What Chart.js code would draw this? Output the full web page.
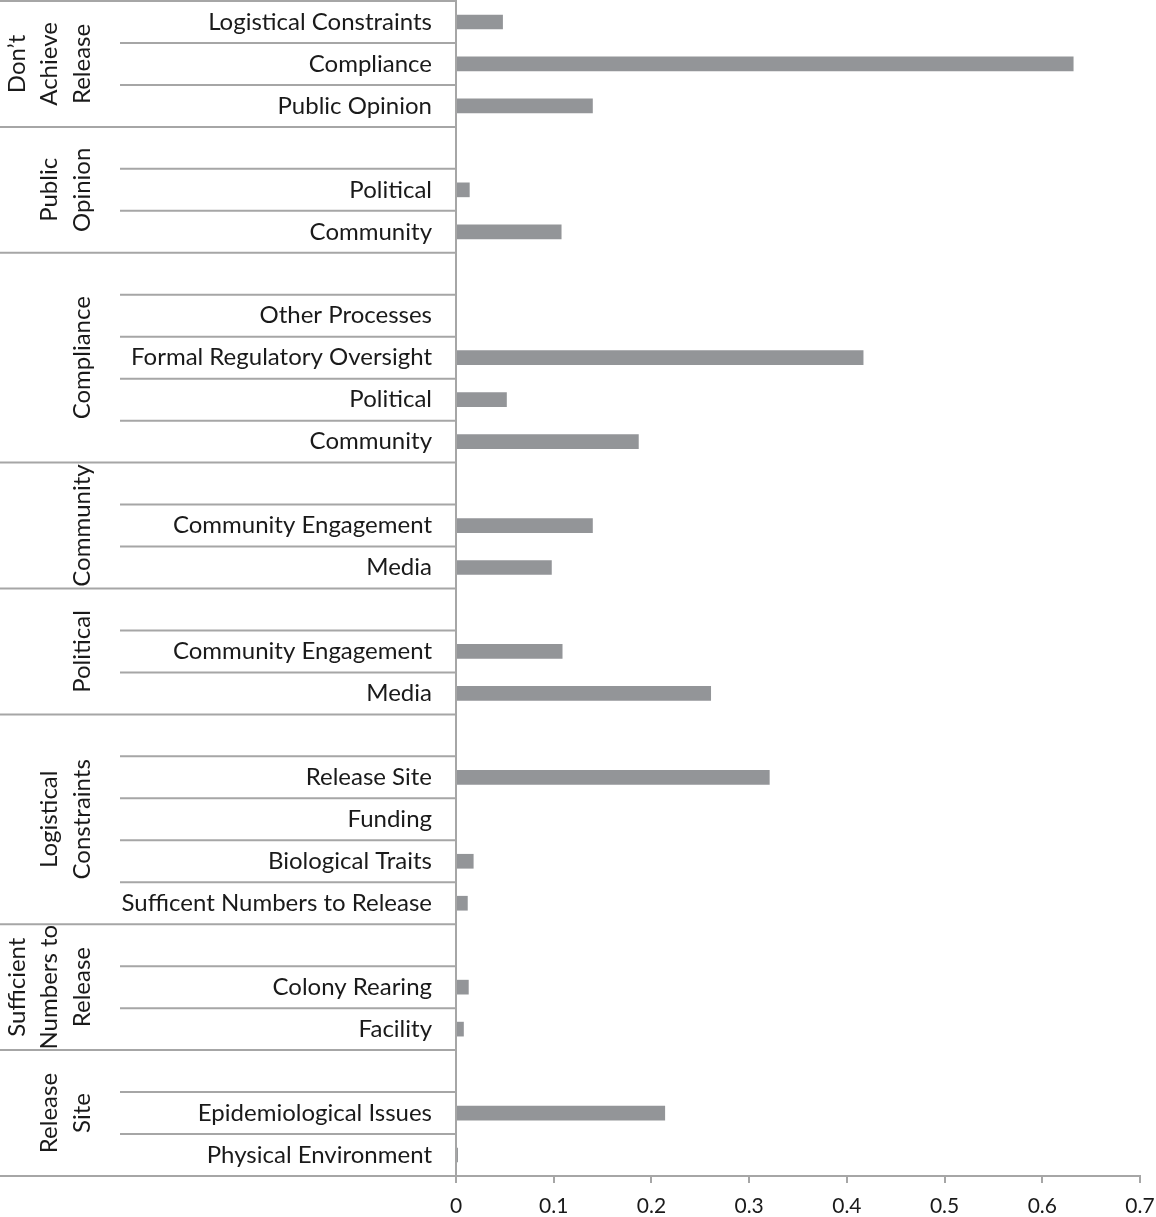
<!DOCTYPE html>
<html>
<head>
<meta charset="utf-8">
<script src="https://cdn.jsdelivr.net/npm/chart.js@4/dist/chart.umd.min.js"></script>
<style>
  html, body { margin: 0; padding: 0; background: #fff; }
  #wrap { width: 1156px; height: 1217px; }
</style>
</head>
<body>
<div id="wrap"><canvas id="chart" width="1156" height="1217"></canvas></div>
<script>
// groups, top to bottom, with how many rows each one spans
var groupNames = [
    ["Don\u2019t", "Achieve", "Release"],
    ["Public", "Opinion"],
    ["Compliance"],
    ["Community"],
    ["Political"],
    ["Logistical", "Constraints"],
    ["Sufficient", "Numbers to", "Release"],
    ["Release", "Site"]
];
var groupSizes = [3, 3, 5, 3, 3, 5, 3, 3];

var categories = [
    "Logistical Constraints", "Compliance", "Public Opinion",
    "", "Political", "Community",
    "", "Other Processes", "Formal Regulatory Oversight", "Political", "Community",
    "", "Community Engagement", "Media",
    "", "Community Engagement", "Media",
    "", "Release Site", "Funding", "Biological Traits", "Sufficent Numbers to Release",
    "", "Colony Rearing", "Facility",
    "", "Epidemiological Issues", "Physical Environment"
];

var values = [
    0.048, 0.632, 0.140,
    0, 0.014, 0.108,
    0, 0, 0.417, 0.052, 0.187,
    0, 0.140, 0.098,
    0, 0.109, 0.261,
    0, 0.321, 0, 0.018, 0.012,
    0, 0.013, 0.008,
    0, 0.214, 0.002
];

var xTicks = [0, 0.1, 0.2, 0.3, 0.4, 0.5, 0.6, 0.7];

const lineGray = '#a6a6a6';
const textColor = '#1a1a1a';
const fontFamily = 'Lato, "Open Sans", sans-serif';

// separators and the rotated group names in the label area
const groupBoxes = {
    id: 'groupBoxes',
    afterDraw(chart) {
        const ctx = chart.ctx;
        const ys = chart.scales.y;
        const left = chart.chartArea.left;
        const half = (ys.getPixelForValue(1) - ys.getPixelForValue(0)) / 2;

        ctx.save();
        ctx.strokeStyle = lineGray;
        ctx.lineWidth = 2;

        var starts = [];
        var r = 0;
        groupSizes.forEach(function (n) { starts.push(r); r += n; });

        for (var i = 0; i <= categories.length; i++) {
            var y = i < categories.length ? ys.getPixelForValue(i) - half : ys.getPixelForValue(i - 1) + half;
            var x0 = (starts.indexOf(i) >= 0 || i === categories.length) ? 0 : 120;
            ctx.beginPath();
            ctx.moveTo(x0, y);
            ctx.lineTo(left, y);
            ctx.stroke();
        }

        ctx.fillStyle = textColor;
        ctx.font = '24px ' + fontFamily;
        ctx.textAlign = 'center';
        ctx.textBaseline = 'middle';
        groupNames.forEach(function (lines, g) {
            var a = starts[g], b = starts[g] + groupSizes[g] - 1;
            var cy = (ys.getPixelForValue(a) + ys.getPixelForValue(b)) / 2;
            lines.forEach(function (txt, k) {
                var cx = 82 - (lines.length - 1 - k) * 32.5;
                ctx.save();
                ctx.translate(cx, cy);
                ctx.rotate(-Math.PI / 2);
                ctx.fillText(txt, 0, 0);
                ctx.restore();
            });
        });
        ctx.restore();
    }
};

new Chart(document.getElementById('chart'), {
    type: 'bar',
    data: {
        labels: categories,
        datasets: [{
            data: values,
            backgroundColor: '#939598',
            categoryPercentage: 1,
            barPercentage: 0.35
        }]
    },
    options: {
        indexAxis: 'y',
        responsive: false,
        animation: false,
        devicePixelRatio: 1,
        layout: { padding: { top: 1, right: 16, left: 0, bottom: 0 } },
        plugins: {
            legend: { display: false },
            tooltip: { enabled: false }
        },
        scales: {
            y: {
                afterFit(scale) {
                    scale.width = 456;
                    scale.paddingTop = 0;
                    scale.paddingBottom = 0;
                },
                grid: { display: false, drawTicks: false },
                border: { display: true, color: lineGray, width: 2 },
                ticks: {
                    color: textColor,
                    padding: 24,
                    autoSkip: false,
                    font: { family: fontFamily, size: 24 }
                }
            },
            x: {
                min: 0,
                max: 0.7,
                afterFit(scale) {
                    scale.height = 41;
                    scale.paddingLeft = 0;
                    scale.paddingRight = 0;
                },
                afterBuildTicks(scale) {
                    scale.ticks = xTicks.map(function (v) { return { value: v }; });
                },
                grid: {
                    drawOnChartArea: false,
                    drawTicks: true,
                    tickLength: 7,
                    color: lineGray,
                    lineWidth: 2
                },
                border: { display: true, color: lineGray, width: 2 },
                ticks: {
                    color: textColor,
                    padding: 11,
                    maxRotation: 0,
                    font: { family: fontFamily, size: 21 },
                    callback: function (v) { return String(Math.round(v * 10) / 10); }
                }
            }
        }
    },
    plugins: [groupBoxes]
});
</script>
</body>
</html>
